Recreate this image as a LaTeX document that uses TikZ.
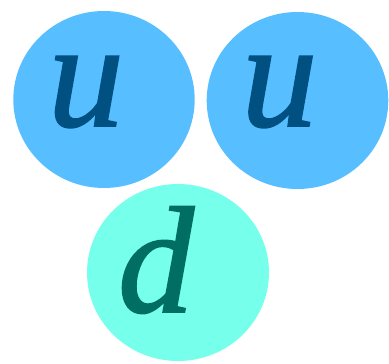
\documentclass[tikz,border=0pt]{standalone}
\usepackage{fontspec}
\newfontfamily\qfont[ItalicFeatures={FakeBold=1.2}]{Liberation Serif}
\definecolor{ublue}{HTML}{57BFFF}
\definecolor{dcyan}{HTML}{76FFEA}
\definecolor{utext}{HTML}{005082}
\definecolor{dtext}{HTML}{006E62}
\begin{document}
\begin{tikzpicture}[x=1pt,y=-1pt,
  qlabel/.style={anchor=base,inner sep=0pt,font=\qfont\fontsize{152}{152}\selectfont\itshape}]
\useasboundingbox (0,0) rectangle (389,364);
\fill[ublue] (104,99.5) ellipse [x radius=90.7, y radius=88.5];
\fill[ublue] (297.5,100.5) ellipse [x radius=90.8, y radius=88.5];
\fill[dcyan] (178,272.5) ellipse [x radius=91, y radius=88.5];
\node[qlabel,text=utext] (u1) at (86,126) {u};
\node[qlabel,text=utext] (u2) at (279.5,126) {u};
\node[qlabel,text=dtext] (d1) at (156,312) {d};
\end{tikzpicture}
\end{document}
